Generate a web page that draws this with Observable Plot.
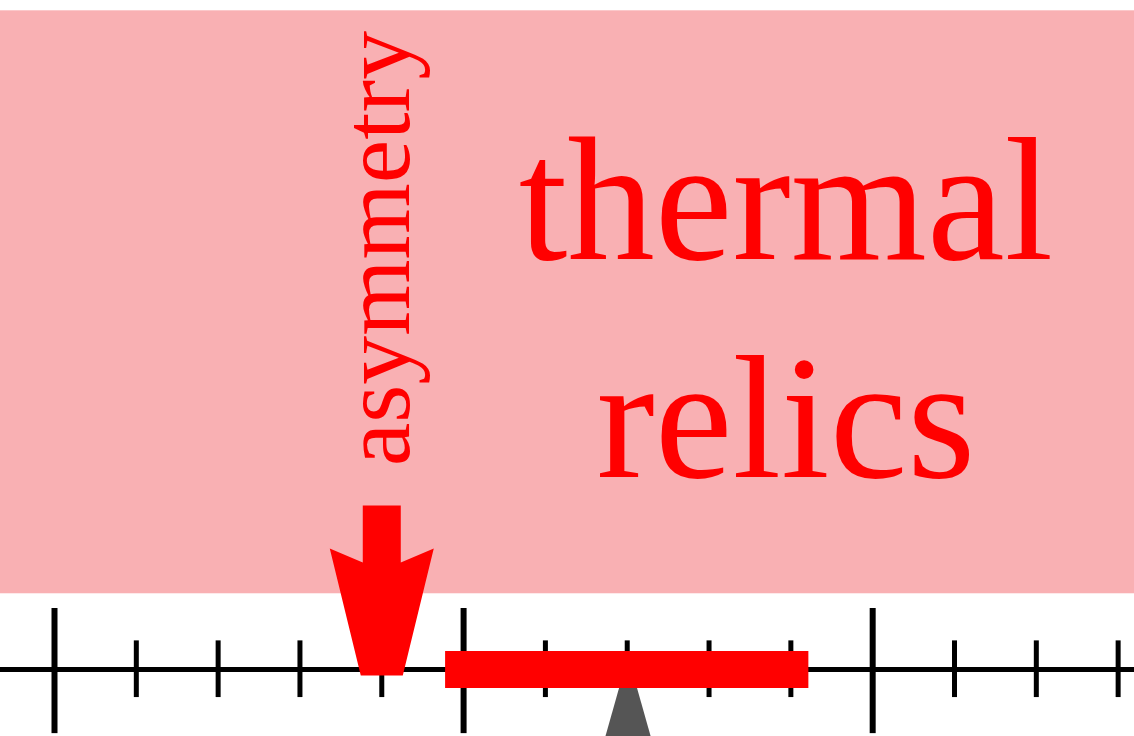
<!DOCTYPE html>
<html>
<head>
<meta charset="utf-8">
<script src="https://cdn.jsdelivr.net/npm/d3@7"></script>
<script src="https://cdn.jsdelivr.net/npm/@observablehq/plot@0.6"></script>
<style>
  html, body { margin: 0; padding: 0; background: white; }
  #chart svg { display: block; }
</style>
</head>
<body>
<div id="chart"></div>
<script>
// ---- data (axis units) ----
const majorTicks = [0, 5, 10];
const minorTicks = [1, 2, 3, 4, 6, 7, 8, 9, 11, 12, 13];
const thermalBand = [{y1: 1.03, y2: 8.95, label: "thermal relics"}];
const thermalRange = [{x1: 4.78, x2: 9.22, y: 0}];
const asymmetryArrow = [{x: 4.0, y: -0.08, label: "asymmetry"}];
const asymmetryLabel = [{x: 4.33, y: 5.72, label: "asymmetry"}];
const thermalLabel = [{x: 8.94, y: 2.62, label: "thermal\nrelics"}];
const marker = [{x: 7.01, y: 0.18}];

// ---- shapes ----
const arrowShape = {
  draw(ctx, l) {
    const s = l / 170;
    ctx.moveTo(-19 * s, 0);
    ctx.lineTo(19 * s, 0);
    ctx.lineTo(19 * s, -57 * s);
    ctx.lineTo(52 * s, -43 * s);
    ctx.lineTo(21 * s, -l);
    ctx.lineTo(-21 * s, -l);
    ctx.lineTo(-52 * s, -43 * s);
    ctx.lineTo(-19 * s, -57 * s);
    ctx.closePath();
  }
};
const triangleShape = {
  draw(ctx, l) {
    const w = l * 0.283;
    ctx.moveTo(0, -l);
    ctx.lineTo(w, 0);
    ctx.lineTo(-w, 0);
    ctx.closePath();
  }
};

const red = "#ff0000";
const chart = Plot.plot({
  width: 1134,
  height: 736,
  margin: 0,
  x: {domain: [-0.66, 13.2], axis: null},
  y: {domain: [-0.909, 9.09], axis: null},
  style: {background: "white"},
  marks: [
    Plot.rect(thermalBand, {y1: "y1", y2: "y2", fill: "#f9b0b3"}),
    Plot.ruleY([0], {stroke: "black", strokeWidth: 5}),
    Plot.ruleX(majorTicks, {x: d => d, y1: -0.87, y2: 0.83, stroke: "black", strokeWidth: 6}),
    Plot.ruleX(minorTicks, {x: d => d, y1: -0.38, y2: 0.39, stroke: "black", strokeWidth: 5}),
    Plot.vector(marker, {x: "x", y: "y", length: 130, anchor: "end", shape: triangleShape, fill: "#555", stroke: "none"}),
    Plot.ruleY(thermalRange, {x1: "x1", x2: "x2", y: "y", stroke: red, strokeWidth: 37, strokeLinecap: "butt"}),
    Plot.vector(asymmetryArrow, {x: "x", y: "y", length: 170, rotate: 180, anchor: "end", shape: arrowShape, fill: red, stroke: "none"}),
    Plot.text(asymmetryLabel, {x: "x", y: "y", text: "label", rotate: -90, lineAnchor: "bottom", textAnchor: "middle",
      fontFamily: "Liberation Serif", fontSize: 98, fill: red}),
    Plot.text(thermalLabel, {x: "x", y: "y", text: "label", lineAnchor: "bottom", textAnchor: "middle", lineHeight: 1.245,
      fontFamily: "Liberation Serif", fontSize: 175, fill: red})
  ]
});
document.getElementById("chart").append(chart);
</script>
</body>
</html>
